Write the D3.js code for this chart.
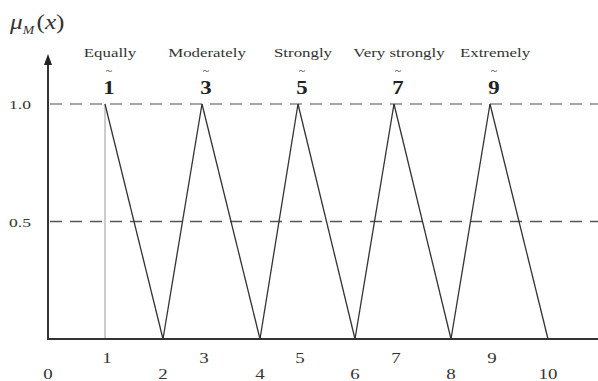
<!DOCTYPE html>
<html>
<head>
<meta charset="utf-8">
<script src="https://cdn.jsdelivr.net/npm/d3@7"></script>
<style>
  body { margin: 0; background: #fff; }
  text { font-family: "Liberation Serif", "DejaVu Serif", serif; fill: #333; }
</style>
</head>
<body>
<svg id="chart" width="598" height="381"></svg>
<script>
'use strict';

// fuzzy scale 1~, 3~, 5~, 7~, 9~
const peaks = [1, 3, 5, 7, 9];
const lowers = [1, 2, 4, 6, 8];
const uppers = [2, 4, 6, 8, 10];
const intensity = ['Equally', 'Moderately', 'Strongly', 'Very strongly', 'Extremely'];
const xTicks = [0, 1, 2, 3, 4, 5, 6, 7, 8, 9, 10];
const yTicks = [0.5, 1.0];
const yTickLabels = ['0.5', '1.0'];

// the drawing's x axis is not evenly spaced, so map each tick to where it sits
const xPixels = [48, 105, 163, 202, 260, 298, 355, 394, 451, 490, 548];

const svg = d3.select('#chart');
const W = 598;

const x = d3.scaleLinear().domain(xTicks).range(xPixels);
const y = d3.scaleLinear().domain([0, 1]).range([339, 104]);

const stretch = 1.35;

// dashed reference lines
svg.selectAll('.ref')
    .data(yTicks)
    .enter().append('line')
    .attr('x1', x(0) + 2)
    .attr('x2', W)
    .attr('y1', d => y(d))
    .attr('y2', d => y(d))
    .attr('stroke', (d) => (d === 1 ? '#888' : '#555'))
    .attr('stroke-width', 1.4)
    .attr('stroke-dasharray', '12,8');

// triangles
const tri = peaks.map((m, i) => ({ l: lowers[i], m: m, u: uppers[i] }));

svg.selectAll('.left')
    .data(tri)
    .enter().append('line')
    .attr('x1', d => x(d.l)).attr('y1', y(0))
    .attr('x2', d => x(d.m)).attr('y2', y(1))
    .attr('stroke', (d) => (d.l === d.m ? '#999' : '#333'))
    .attr('stroke-width', (d) => (d.l === d.m ? 1 : 1.3));

svg.selectAll('.right')
    .data(tri)
    .enter().append('line')
    .attr('x1', d => x(d.m)).attr('y1', y(1))
    .attr('x2', d => x(d.u)).attr('y2', y(0))
    .attr('stroke', '#333')
    .attr('stroke-width', 1.3);

// axes
svg.append('line')
    .attr('x1', x(0) - 1).attr('x2', W)
    .attr('y1', y(0)).attr('y2', y(0))
    .attr('stroke', '#333').attr('stroke-width', 2.2);

svg.append('line')
    .attr('x1', x(0)).attr('x2', x(0))
    .attr('y1', y(0) + 1).attr('y2', 62)
    .attr('stroke', '#333').attr('stroke-width', 2);

svg.append('path')
    .attr('d', `M${x(0)},54 L${x(0) - 4},65 L${x(0) + 4},65 Z`)
    .attr('fill', '#222');

// x tick labels: odd up, even down
svg.selectAll('.xlab')
    .data(xTicks)
    .enter().append('text')
    .attr('transform', d => `translate(${x(d) + (d % 2 ? 2 : 0)},${d % 2 ? 363 : 379}) scale(${stretch},1)`)
    .attr('text-anchor', 'middle')
    .attr('font-size', 14)
    .text(d => d);

// y tick labels
svg.selectAll('.ylab')
    .data(yTicks)
    .enter().append('text')
    .attr('transform', d => `translate(20,${y(d) + 5}) scale(${stretch},1)`)
    .attr('text-anchor', 'middle')
    .attr('font-size', 13)
    .text((d, i) => yTickLabels[i]);

// intensity words
svg.selectAll('.word')
    .data(peaks)
    .enter().append('text')
    .attr('transform', d => `translate(${x(d) + 5},57) scale(${stretch},1)`)
    .attr('text-anchor', 'middle')
    .attr('font-size', 12.5)
    .text((d, i) => intensity[i]);

// fuzzy numbers with a tilde over them
const nums = svg.selectAll('.num')
    .data(peaks)
    .enter().append('text')
    .attr('transform', d => `translate(${x(d) + 4},94) scale(1.2,1)`)
    .attr('text-anchor', 'middle')
    .style('fill', '#222');
nums.append('tspan')
    .attr('x', 0).attr('y', -20.5)
    .attr('font-size', 10)
    .text('~');
nums.append('tspan')
    .attr('x', 0).attr('y', 0)
    .attr('font-size', 19)
    .attr('font-weight', 'bold')
    .text(d => d);

// y label
const title = svg.append('text')
    .attr('transform', 'translate(10,29) scale(1.15,1)')
    .attr('font-size', 22)
    .attr('font-style', 'italic');
title.append('tspan').text('\u03BC');
title.append('tspan').attr('font-size', 12).attr('dy', 5).text('M');
title.append('tspan').attr('dy', -5).attr('dx', 2).attr('font-style', 'normal').text('(');
title.append('tspan').text('x');
title.append('tspan').attr('font-style', 'normal').text(')');
</script>
</body>
</html>
